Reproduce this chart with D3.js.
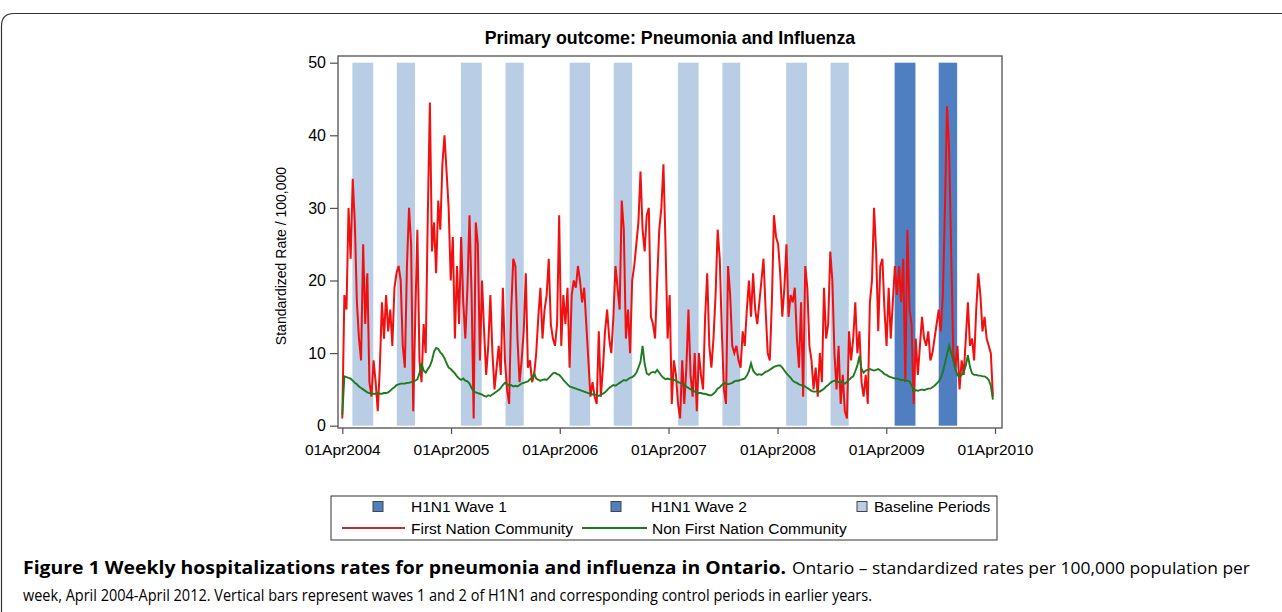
<!DOCTYPE html>
<html><head><meta charset="utf-8">
<script src="https://cdn.jsdelivr.net/npm/d3@7"></script>
<style>
body{margin:0;background:#fff}
svg{display:block}
text{font-family:"Liberation Sans",Arial,Helvetica,sans-serif;fill:#000}
</style>
</head><body>
<svg id="c" width="1282" height="612"></svg>
<script>
// ---------------- data ----------------
const firstWeek = "2004-04-01";           // weekly series start
const fn2004 = [1,18,16,30,23,34,28,17,12,9,25,14,21,6,4,9,6,2,8,17,12,18,13,16,11,19,21,22,20,11,8,22,30,25,2,15,27,9,6,14,10,29,44.5,24,28,21,31,27,36,40,35,30];
const fn2005 = [20,26,12,22,14,26,17,12,19,29,18,1,28,25,9,20,13,7,11,18,10,5,8,11,7,19,9,5,3,16,23,22,12,6,9,13,21,8,9,6,7,10,15,19,12,16,18,23,14,12,11,14];
const fn2006 = [29,11,18,14,19,8,18,20,19,22,20,17,19,14,9,4,6,4,3,13,4,8,13,16,12,10,15,22,19,16,31,27,12,16,10,20,22,25,28,35,27,24,29,30,15,14,12,20,27,30,36,25];
const fn2007 = [12,18,3,9,7,3,1,9,3,8,16,7,4,10,2,10,7,5,15,21,11,8,12,18,27,23,13,5,3,22,18,11,10,11,9,8,13,11,16,20,15,21,16,14,17,20,23,16,10,9,17,29];
const fn2008 = [26,25,21,15,19,25,15,18,17,19,12,8,17,4,22,19,11,9,5,8,4,10,6,19,12,14,24,20,10,5,11,3,7,2,1,13,9,12,17,10,13,6,4,7,3,17,20,30,24,13,22,23];
const fn2009 = [16,11,19,12,17,22,18,22,17,23,6,27,16,14,3,12,7,11,15,12,11,13,9,10,12,14,16,13,18,30,44,38,24,10,8,11,5,9,7,12,17,11,12,9,16,21,18,13,15,12,11,10,4];

const nfn2004 = [1.5,6.8,6.7,6.6,6.5,6.2,5.9,5.7,5.4,5.2,5.0,4.8,4.6,4.5,4.4,4.4,4.4,4.5,4.4,4.4,4.5,4.5,4.6,4.8,5.1,5.3,5.6,5.7,5.8,5.8,5.8,5.9,5.9,6.0,6.1,6.2,6.4,7.2,8.6,7.6,7.3,7.8,8.2,9.0,10.2,10.7,10.6,10.1,9.8,9.3,8.6,8.0];
const nfn2005 = [7.8,7.5,7.2,6.8,6.5,6.3,6.5,6.2,6.1,5.8,5.2,4.7,4.6,4.5,4.4,4.3,4.1,4.0,4.2,4.1,4.3,4.5,4.7,4.9,5.2,5.6,5.9,5.7,5.5,5.6,5.4,5.5,5.4,5.6,5.8,5.9,6.0,6.1,6.4,6.6,7.2,6.5,6.3,6.2,6.3,6.4,6.3,6.6,6.9,7.2,7.3,7.1];
const nfn2006 = [7.0,6.7,6.3,6.0,5.7,5.4,5.3,5.2,5.1,5.0,4.9,4.8,4.7,4.6,4.5,4.4,4.3,4.3,4.2,4.1,4.3,4.4,4.6,4.9,5.2,5.4,5.6,5.5,5.7,5.9,6.1,6.3,6.2,6.4,6.6,6.7,6.9,7.3,8.0,8.8,11.0,8.5,7.2,7.0,7.3,7.4,7.3,7.7,7.3,6.9,6.6,6.4];
const nfn2007 = [6.5,6.4,6.4,6.3,6.2,6.0,5.9,5.8,5.6,5.4,5.2,5.0,4.9,4.7,4.6,4.5,4.5,4.4,4.4,4.3,4.2,4.2,4.4,4.7,5.1,5.3,5.6,5.9,5.8,5.7,5.8,5.9,6.1,6.2,6.2,6.3,6.4,6.5,6.9,7.5,8.6,7.6,7.2,7.0,7.1,7.0,7.2,7.4,7.5,7.7,7.9,8.1];
const nfn2008 = [8.2,8.3,8.3,8.0,7.6,7.2,6.9,6.6,6.2,6.0,5.9,5.7,5.6,5.5,5.4,5.2,5.0,4.8,4.7,4.7,4.8,4.7,4.9,5.1,5.4,5.6,5.9,6.1,6.2,6.1,6.0,6.1,5.9,5.8,6.0,6.3,6.6,6.8,7.5,8.3,9.6,7.8,7.3,7.6,7.7,7.8,7.7,7.6,7.7,7.8,7.6,7.4];
const nfn2009 = [7.1,7.0,6.8,6.7,6.6,6.5,6.5,6.4,6.3,6.3,6.2,6.2,6.1,5.6,4.7,4.9,4.8,4.9,5.0,4.9,5.0,5.1,5.1,5.3,5.5,5.8,6.1,6.6,7.4,8.6,9.8,11.0,10.0,9.0,7.7,7.0,6.7,7.0,7.4,8.3,9.7,8.1,7.2,7.0,7.0,6.9,6.9,6.8,6.8,6.6,6.3,5.5,3.6];

const baselineStarts = ["2004-05-05","2004-10-01","2005-05-04","2005-10-01","2006-05-04","2006-09-29","2007-05-03","2007-09-29","2008-04-30","2008-09-26"];
const baselineEnds   = ["2004-07-14","2004-12-01","2005-07-13","2005-12-01","2006-07-12","2006-11-30","2007-07-11","2007-11-28","2008-07-09","2008-11-26"];
const waveStarts = ["2009-04-29","2009-09-24"];
const waveEnds   = ["2009-07-08","2009-11-25"];
const barTop = 50;

const yTicks = [0,10,20,30,40,50];
const xTickDates  = ["2004-04-01","2005-04-01","2006-04-01","2007-04-01","2008-04-01","2009-04-01","2010-04-01"];
const xTickLabels = ["01Apr2004","01Apr2005","01Apr2006","01Apr2007","01Apr2008","01Apr2009","01Apr2010"];

const titleText = "Primary outcome: Pneumonia and Influenza";
const yLabel = "Standardized Rate / 100,000";
const legendItems = ["H1N1 Wave 1","H1N1 Wave 2","Baseline Periods","First Nation Community","Non First Nation Community"];
const captionBold = "Figure 1 Weekly hospitalizations rates for pneumonia and influenza in Ontario.";
const captionRest1 = "Ontario \u2013 standardized rates per 100,000 population per";
const captionRest2 = "week, April 2004-April 2012. Vertical bars represent waves 1 and 2 of H1N1 and corresponding control periods in earlier years.";

// ---------------- build ----------------
const parse = d3.utcParse("%Y-%m-%d");
const fnRates = [].concat(fn2004, fn2005, fn2006, fn2007, fn2008, fn2009);
const nonFnRates = [].concat(nfn2004, nfn2005, nfn2006, nfn2007, nfn2008, nfn2009);
const t0 = parse(firstWeek);
const weekDate = i => d3.utcDay.offset(t0, 7 * i);
const fnData = fnRates.map((v, i) => ({d: weekDate(i), v}));
const nfnData = nonFnRates.map((v, i) => ({d: weekDate(i), v}));

const svg = d3.select("#c");
const C = {baseline:"#b9cde5", wave:"#4f7fc0", red:"#f01010", green:"#1f7a1f", frame:"#505050"};

// outer rounded border
svg.append("path")
  .attr("d","M1.5,640 L1.5,26 Q1.5,13.5 14,13.5 L1290,13.5")
  .attr("fill","none").attr("stroke","#333").attr("stroke-width",1.2);

const frame = {l:338, r:1002, t:56, b:428};
const x = d3.scaleUtc().domain([parse("2004-04-01"), parse("2010-04-01")]).range([342.3, 995]);
const y = d3.scaleLinear().domain([0, 50]).range([425.7, 62.7]);

// title
svg.append("text").attr("x",670).attr("y",44).attr("text-anchor","middle")
  .style("font-size","17.8px").style("font-weight","bold").text(titleText);

// bars
const bars = baselineStarts.map((s,i)=>({s:parse(s), e:parse(baselineEnds[i]), c:C.baseline}))
  .concat(waveStarts.map((s,i)=>({s:parse(s), e:parse(waveEnds[i]), c:C.wave})));
svg.append("g").selectAll("rect").data(bars).join("rect")
  .attr("x", d => x(d.s)).attr("width", d => x(d.e) - x(d.s))
  .attr("y", y(barTop)).attr("height", y(0) - y(barTop))
  .attr("fill", d => d.c);

// lines
svg.append("clipPath").attr("id","pc").append("rect")
  .attr("x",frame.l).attr("y",frame.t).attr("width",frame.r-frame.l).attr("height",frame.b-frame.t);
const line = d3.line().x(d => x(d.d)).y(d => y(d.v));
svg.append("path").datum(fnData).attr("d", line).attr("fill","none")
  .attr("stroke",C.red).attr("stroke-width",2).attr("stroke-linejoin","miter").attr("clip-path","url(#pc)");
svg.append("path").datum(nfnData).attr("d", line).attr("fill","none")
  .attr("stroke",C.green).attr("stroke-width",1.9).attr("clip-path","url(#pc)");

// frame
svg.append("rect").attr("x",frame.l).attr("y",frame.t).attr("width",frame.r-frame.l).attr("height",frame.b-frame.t)
  .attr("fill","none").attr("stroke",C.frame).attr("stroke-width",1.3);

// y axis
const ya = svg.append("g").attr("transform",`translate(${frame.l},0)`)
  .call(d3.axisLeft(y).tickValues(yTicks).tickSize(8).tickPadding(4).tickFormat(d3.format("d")));
ya.select(".domain").remove();
ya.selectAll("line").attr("stroke",C.frame).attr("stroke-width",1.2);
ya.selectAll("text").style("font-size","16px").attr("fill","#000");

// x axis
const xa = svg.append("g").attr("transform",`translate(0,${frame.b})`)
  .call(d3.axisBottom(x).tickValues(xTickDates.map(parse)).tickSize(6).tickPadding(10)
        .tickFormat((d,i)=>xTickLabels[i]));
xa.select(".domain").remove();
xa.selectAll("line").attr("stroke",C.frame).attr("stroke-width",1.2);
xa.selectAll("text").style("font-size","15.5px").attr("fill","#000");

// y label
svg.append("text").attr("transform","translate(286,256) rotate(-90)").attr("text-anchor","middle")
  .style("font-size","14px").text(yLabel);

// legend
const lg = svg.append("g");
lg.append("rect").attr("x",331).attr("y",496).attr("width",666).attr("height",44)
  .attr("fill","#fff").attr("stroke","#333").attr("stroke-width",1);
const row1 = 506.5, row2 = 528;
[[378, C.wave, legendItems[0], 411],[616, C.wave, legendItems[1], 651],[862, C.baseline, legendItems[2], 874]]
  .forEach(([cx, col, label, tx]) => {
    lg.append("rect").attr("x",cx-5).attr("y",row1-5).attr("width",10).attr("height",10)
      .attr("fill",col).attr("stroke","#444").attr("stroke-width",1);
    lg.append("text").attr("x",tx).attr("y",row1+5.5).style("font-size","15.5px").text(label);
  });
[[342,405,"#b83232",legendItems[3],411],[582,647,C.green,legendItems[4],652]]
  .forEach(([x1,x2,col,label,tx]) => {
    lg.append("line").attr("x1",x1).attr("x2",x2).attr("y1",row2).attr("y2",row2)
      .attr("stroke",col).attr("stroke-width",2);
    lg.append("text").attr("x",tx).attr("y",row2+5.5).style("font-size","15.5px").text(label);
  });

// caption
const cap = svg.append("g");
cap.append("text").attr("x",23).attr("y",574).style("font-size","17px").style("font-weight","bold")
  .style("font-family","'Open Sans',sans-serif")
  .attr("textLength",763).attr("lengthAdjust","spacingAndGlyphs").text(captionBold);
cap.append("text").attr("x",792).attr("y",574).style("font-size","17px")
  .style("font-family","'Open Sans',sans-serif").attr("fill","#222")
  .attr("textLength",458).attr("lengthAdjust","spacingAndGlyphs").text(captionRest1);
cap.append("text").attr("x",23).attr("y",601).style("font-size","17px")
  .style("font-family","'Open Sans',sans-serif").attr("fill","#222")
  .attr("textLength",849).attr("lengthAdjust","spacingAndGlyphs").text(captionRest2);
</script>
</body></html>
